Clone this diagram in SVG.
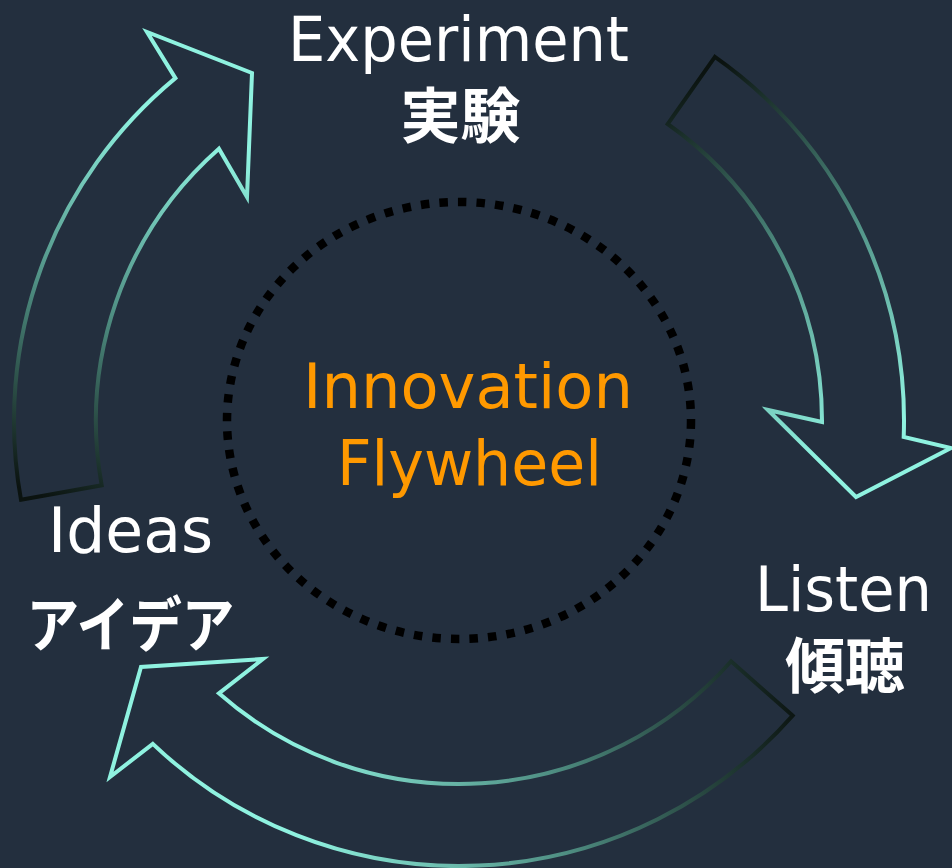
<svg xmlns="http://www.w3.org/2000/svg" width="952" height="868" viewBox="0 0 952 868">
<defs>
<linearGradient id="g1" gradientUnits="userSpaceOnUse" x1="50" y1="500" x2="200" y2="140">
<stop offset="0" stop-color="#0b1310"/><stop offset="0.5" stop-color="#4f8f83"/><stop offset="1" stop-color="#8ff2e0"/>
</linearGradient>
<linearGradient id="g2" gradientUnits="userSpaceOnUse" x1="690" y1="80" x2="870" y2="430">
<stop offset="0" stop-color="#0b1310"/><stop offset="0.5" stop-color="#4f8f83"/><stop offset="1" stop-color="#8ff2e0"/>
</linearGradient>
<linearGradient id="g3" gradientUnits="userSpaceOnUse" x1="795" y1="690" x2="290" y2="780">
<stop offset="0" stop-color="#0b1310"/><stop offset="0.5" stop-color="#4f8f83"/><stop offset="1" stop-color="#8ff2e0"/>
</linearGradient>
</defs>
<style>
.arrow{fill:none;stroke-width:4;stroke-linejoin:miter}
.en{font-family:"DejaVu Sans","Noto Sans",sans-serif;font-size:62px;fill:#ffffff;text-anchor:middle}
.ja{font-family:"Noto Sans CJK JP","Noto Sans CJK SC",sans-serif;font-size:60px;font-weight:bold;fill:#ffffff;text-anchor:middle}
.core{font-family:"DejaVu Sans","Noto Sans",sans-serif;font-size:63px;fill:#ff9900;text-anchor:middle}
</style>
<rect x="0" y="0" width="952" height="868" fill="#232f3e"/>
<g id="connectors">
<path class="arrow" stroke="url(#g1)" d="M21,499.8 L101.7,485.3 A363 363 0 0 1 218.9,148.7 L247,197 L252,73 L147,32 L175.4,78.1 A445 445 0 0 0 21,499.8 Z"/>
<path class="arrow" stroke="url(#g2)" d="M714.9,56.9 L667.7,124 A363 363 0 0 1 822,422 L768,410 L856,497 L951,448 L903.7,436.9 A445 445 0 0 0 714.9,56.9 Z"/>
<path class="arrow" stroke="url(#g3)" d="M792.6,715.6 L731.1,661.3 A363 363 0 0 1 218.9,693.3 L263,659 L141,667 L110,777 L152.8,743.9 A445 445 0 0 0 792.6,715.6 Z"/>
</g>
<g id="center">
<ellipse cx="459" cy="420.5" rx="232" ry="218.5" fill="none" stroke="#000000" stroke-width="8.5" stroke-dasharray="8.5 10.1"/>
<text class="core" x="468" y="408" textLength="330" lengthAdjust="spacingAndGlyphs">Innovation</text>
<text class="core" x="469.5" y="485" textLength="265" lengthAdjust="spacingAndGlyphs">Flywheel</text>
</g>
<g id="experiment">
<text class="en" x="458.5" y="61" textLength="341" lengthAdjust="spacingAndGlyphs">Experiment</text>
<text class="ja" x="460.5" y="138">実験</text>
</g>
<g id="listen">
<text class="en" x="843.5" y="611" textLength="177" lengthAdjust="spacingAndGlyphs">Listen</text>
<text class="ja" x="845" y="688">傾聴</text>
</g>
<g id="ideas">
<text class="en" x="130.5" y="552" textLength="165" lengthAdjust="spacingAndGlyphs">Ideas</text>
<text class="ja" x="130.5" y="647" textLength="208" lengthAdjust="spacingAndGlyphs">アイデア</text>
</g>
</svg>
